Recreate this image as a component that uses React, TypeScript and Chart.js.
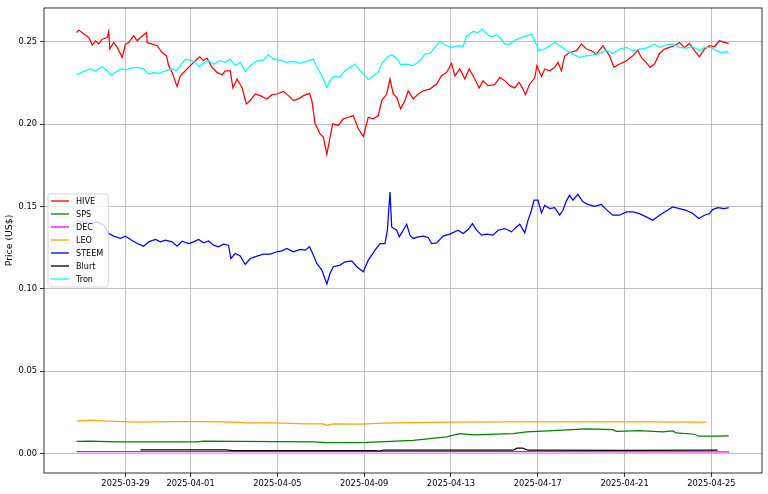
import { useEffect, useRef } from "react";
import { Chart, registerables } from "chart.js";

Chart.register(...registerables);

// time is counted in days from 2025-03-26 00:00
const tickDays = [3, 6, 10, 14, 18, 22, 26, 30];
const tickLabels = [
  "2025-03-29",
  "2025-04-01",
  "2025-04-05",
  "2025-04-09",
  "2025-04-13",
  "2025-04-17",
  "2025-04-21",
  "2025-04-25",
];
const yTicks = [0, 0.05, 0.1, 0.15, 0.2, 0.25];
const yTickLabels = ["0.00", "0.05", "0.10", "0.15", "0.20", "0.25"];

const hiveDays = [
  0.75, 0.85, 1.08, 1.31, 1.47, 1.62, 1.77, 1.93, 2.16, 2.23,
  2.28, 2.46, 2.62, 2.85, 3.0, 3.15, 3.38, 3.54, 3.69, 3.97,
  4.0, 4.23, 4.46, 4.69, 4.89, 4.99, 5.15, 5.38, 5.53, 5.76,
  5.99, 6.22, 6.42, 6.6, 6.76, 6.99, 7.22, 7.45, 7.6, 7.83,
  7.95, 8.14, 8.37, 8.57, 8.75, 8.98, 9.21, 9.52, 9.75, 9.98,
  10.28, 10.51, 10.74, 10.97, 11.2, 11.48, 11.59, 11.74, 11.97, 12.12,
  12.28, 12.4, 12.55, 12.81, 13.04, 13.27, 13.5, 13.73, 13.96, 14.19,
  14.42, 14.65, 14.81, 15.04, 15.19, 15.34, 15.5, 15.68, 15.88, 16.03,
  16.26, 16.49, 16.72, 17.03, 17.34, 17.57, 17.8, 18.03, 18.18, 18.41,
  18.64, 18.84, 19.02, 19.3, 19.48, 19.71, 20.02, 20.25, 20.48, 20.71,
  20.94, 21.14, 21.32, 21.43, 21.63, 21.86, 21.96, 22.17, 22.32, 22.55,
  22.78, 22.93, 23.09, 23.24, 23.47, 23.78, 24.01, 24.24, 24.47, 24.7,
  25.0, 25.31, 25.51, 25.77, 26.08, 26.38, 26.61, 26.77, 26.99, 27.18,
  27.38, 27.61, 27.84, 28.07, 28.3, 28.53, 28.76, 28.99, 29.22, 29.45,
  29.68, 29.91, 30.14, 30.37, 30.6, 30.8,
];
const hiveValues = [
  0.2556, 0.2571, 0.2547, 0.2526, 0.248, 0.2506, 0.2488, 0.2516, 0.2526, 0.2563,
  0.2456, 0.2496, 0.2466, 0.2405, 0.2486, 0.2496, 0.2536, 0.2506, 0.2526, 0.2556,
  0.2496, 0.2486, 0.2476, 0.2435, 0.2415, 0.2355, 0.2314, 0.2228, 0.2294, 0.2324,
  0.2355, 0.2385, 0.2409, 0.2385, 0.2401, 0.2345, 0.2314, 0.23, 0.2324, 0.2324,
  0.222, 0.2274, 0.2223, 0.2123, 0.2143, 0.2183, 0.2173, 0.2153, 0.2179, 0.2183,
  0.2199, 0.2173, 0.2143, 0.2153, 0.2173, 0.2187, 0.2143, 0.2002, 0.1941, 0.1921,
  0.1816, 0.1901, 0.2002, 0.1992, 0.2032, 0.2042, 0.2052, 0.1972, 0.1925, 0.2042,
  0.2032, 0.2052, 0.2143, 0.2183, 0.2274, 0.2183, 0.2163, 0.2093, 0.2143, 0.2203,
  0.2153, 0.2183, 0.2203, 0.2213, 0.2244, 0.2294, 0.2314, 0.2369, 0.2294, 0.2335,
  0.2274, 0.2335, 0.2294, 0.222, 0.2264, 0.2234, 0.224, 0.2284, 0.2264, 0.2234,
  0.222, 0.2254, 0.2213, 0.2179, 0.2244, 0.228, 0.2355, 0.2288, 0.2335, 0.2324,
  0.2345, 0.2375, 0.2324, 0.2415, 0.2435, 0.2446, 0.2486, 0.2456, 0.2446, 0.2425,
  0.2476, 0.2415, 0.2345, 0.2365, 0.2385, 0.2415, 0.2449, 0.2405, 0.2375, 0.2345,
  0.2365, 0.2429, 0.2456, 0.2466, 0.2476, 0.2496, 0.2466, 0.249, 0.2446, 0.2409,
  0.2456, 0.2476, 0.247, 0.2506, 0.2496, 0.249,
];

const spsDays = [
  0.75, 1.39, 2.62, 3.69, 5.22, 6.3, 6.6, 8.29, 9.82, 11.66,
  12.28, 14.12, 14.73, 16.26, 17.8, 18.41, 19.02, 20.86, 21.48, 22.7,
  24.24, 25.46, 25.62, 26.69, 27.76, 28.22, 28.38, 29.22, 29.42, 30.06,
  30.8,
];
const spsValues = [
  0.0073, 0.0075, 0.007, 0.0071, 0.007, 0.007, 0.0075, 0.0073, 0.0072, 0.0071,
  0.0066, 0.0068, 0.0071, 0.008, 0.0101, 0.0121, 0.0113, 0.0121, 0.0131, 0.0139,
  0.0149, 0.0145, 0.0135, 0.0139, 0.0131, 0.0137, 0.0125, 0.0117, 0.0105, 0.0105,
  0.0107,
];

const decDays = [0.75, 10.0, 20.0, 30.83];
const decValues = [0.0011, 0.0011, 0.0011, 0.001];

const leoDays = [
  0.75, 1.39, 2.16, 3.54, 5.22, 6.6, 7.98, 8.6, 9.82, 11.36,
  12.12, 12.28, 12.58, 13.81, 14.88, 17.8, 20.86, 23.93, 27.0, 29.78,
];
const leoValues = [
  0.0196, 0.0202, 0.0196, 0.019, 0.0194, 0.0194, 0.019, 0.0186, 0.0186, 0.018,
  0.018, 0.0171, 0.018, 0.0178, 0.0184, 0.019, 0.0192, 0.0192, 0.0192, 0.019,
];

const steemDays = [
  0.75, 1.08, 1.39, 1.7, 2.0, 2.23, 2.46, 2.77, 3.0, 3.23,
  3.54, 3.84, 4.07, 4.38, 4.61, 4.84, 5.15, 5.38, 5.61, 5.91,
  6.14, 6.37, 6.6, 6.83, 7.06, 7.29, 7.52, 7.75, 7.86, 8.06,
  8.29, 8.52, 8.75, 9.06, 9.36, 9.67, 9.98, 10.21, 10.44, 10.74,
  11.05, 11.28, 11.48, 11.59, 11.82, 12.05, 12.28, 12.43, 12.58, 12.89,
  13.12, 13.43, 13.66, 13.96, 14.19, 14.35, 14.5, 14.73, 14.96, 15.07,
  15.19, 15.27, 15.5, 15.62, 15.8, 15.96, 16.11, 16.26, 16.49, 16.72,
  16.95, 17.11, 17.34, 17.64, 17.95, 18.33, 18.56, 18.79, 18.99, 19.18,
  19.41, 19.64, 19.94, 20.17, 20.48, 20.79, 21.02, 21.17, 21.4, 21.55,
  21.71, 21.83, 22.01, 22.17, 22.32, 22.55, 22.78, 23.01, 23.16, 23.32,
  23.47, 23.62, 23.85, 24.08, 24.31, 24.62, 24.93, 25.16, 25.46, 25.77,
  26.08, 26.38, 26.69, 27.0, 27.3, 27.61, 27.92, 28.22, 28.53, 28.84,
  29.14, 29.42, 29.68, 29.91, 30.06, 30.29, 30.6, 30.8,
];
const steemValues = [
  0.1412, 0.1406, 0.1396, 0.1406, 0.1386, 0.1336, 0.132, 0.1306, 0.132, 0.13,
  0.1275, 0.1259, 0.1285, 0.13, 0.1285, 0.1295, 0.1285, 0.1259, 0.1289, 0.1275,
  0.1285, 0.13, 0.1279, 0.1291, 0.1265, 0.1255, 0.1271, 0.1265, 0.1184, 0.1215,
  0.1199, 0.1148, 0.1184, 0.1199, 0.1211, 0.1211, 0.1225, 0.1231, 0.1245, 0.1225,
  0.1239, 0.1235, 0.1255, 0.1225, 0.1154, 0.1114, 0.1029, 0.1094, 0.1134, 0.1144,
  0.1164, 0.117, 0.1134, 0.1104, 0.1174, 0.1205, 0.1235, 0.1275, 0.1275, 0.1356,
  0.1588, 0.1376, 0.1356, 0.1316, 0.1356, 0.1392, 0.1326, 0.1306, 0.1316, 0.132,
  0.1312, 0.1275, 0.1279, 0.132, 0.1332, 0.1356, 0.1336, 0.136, 0.1396, 0.1356,
  0.1326, 0.1332, 0.1326, 0.1356, 0.1366, 0.1346, 0.1376, 0.1392, 0.134, 0.1416,
  0.1477, 0.1538, 0.1538, 0.1461, 0.1507, 0.1487, 0.1493, 0.1447, 0.1477, 0.1534,
  0.1568, 0.1538, 0.1574, 0.1528, 0.1513, 0.1501, 0.1513, 0.1481, 0.1447, 0.1447,
  0.1467, 0.1467, 0.1457, 0.1437, 0.1416, 0.1447, 0.1473, 0.1497, 0.1487, 0.1477,
  0.1457, 0.1427, 0.1447, 0.1457, 0.1481, 0.1493, 0.1487, 0.1493,
];

const blurtDays = [3.69, 7.6, 7.97, 14.5, 14.65, 14.9, 15.65, 20.85, 21.05, 21.3, 21.55, 25.77, 30.29];
const blurtValues = [0.0022, 0.0022, 0.0018, 0.0018, 0.0014, 0.002, 0.002, 0.002, 0.0032, 0.0032, 0.002, 0.0019, 0.002];

const tronDays = [
  0.75, 1.08, 1.39, 1.62, 1.93, 2.16, 2.31, 2.54, 2.77, 3.0,
  3.31, 3.61, 3.84, 4.07, 4.3, 4.53, 4.84, 5.15, 5.35, 5.53,
  5.76, 5.99, 6.22, 6.37, 6.6, 6.83, 7.06, 7.37, 7.6, 7.83,
  8.06, 8.29, 8.52, 8.75, 9.06, 9.36, 9.59, 9.82, 10.13, 10.44,
  10.74, 11.05, 11.36, 11.66, 11.82, 12.05, 12.28, 12.43, 12.58, 12.89,
  13.12, 13.35, 13.58, 13.81, 14.04, 14.19, 14.42, 14.65, 14.81, 15.04,
  15.27, 15.5, 15.68, 15.96, 16.26, 16.57, 16.8, 17.03, 17.26, 17.49,
  17.8, 18.03, 18.33, 18.56, 18.72, 19.02, 19.25, 19.45, 19.64, 19.87,
  20.1, 20.25, 20.48, 20.71, 20.94, 21.17, 21.48, 21.71, 21.86, 22.06,
  22.32, 22.55, 22.78, 23.01, 23.32, 23.62, 23.93, 24.24, 24.54, 24.85,
  25.16, 25.46, 25.77, 26.08, 26.38, 26.69, 27.0, 27.38, 27.61, 27.92,
  28.22, 28.53, 28.84, 29.14, 29.45, 29.68, 29.99, 30.22, 30.45, 30.68,
  30.8,
];
const tronValues = [
  0.23, 0.232, 0.2335, 0.2324, 0.2349, 0.2324, 0.23, 0.2314, 0.2335, 0.2329,
  0.2341, 0.2345, 0.2335, 0.2304, 0.2314, 0.2308, 0.2324, 0.2335, 0.2324, 0.2355,
  0.2395, 0.2389, 0.2375, 0.2349, 0.2369, 0.2385, 0.2365, 0.2385, 0.2375, 0.2395,
  0.2355, 0.2375, 0.232, 0.2355, 0.2385, 0.2389, 0.2421, 0.2395, 0.2389, 0.2375,
  0.2381, 0.2369, 0.2381, 0.2395, 0.2345, 0.2294, 0.2223, 0.2264, 0.2288, 0.2288,
  0.2324, 0.2345, 0.2365, 0.2324, 0.2294, 0.227, 0.2294, 0.2314, 0.2365, 0.2405,
  0.2421, 0.24, 0.2361, 0.2365, 0.2355, 0.2385, 0.2425, 0.2429, 0.2466, 0.2502,
  0.2476, 0.2466, 0.2476, 0.247, 0.2536, 0.2563, 0.2556, 0.2577, 0.2547, 0.253,
  0.2542, 0.2526, 0.2486, 0.2486, 0.251, 0.2522, 0.2536, 0.2547, 0.2506, 0.2446,
  0.2456, 0.2476, 0.2496, 0.2476, 0.2449, 0.2425, 0.2405, 0.2415, 0.2421, 0.2429,
  0.2449, 0.2429, 0.2456, 0.2466, 0.2446, 0.2456, 0.2462, 0.2486, 0.2466, 0.2482,
  0.2486, 0.2466, 0.2462, 0.247, 0.2446, 0.2466, 0.2466, 0.2446, 0.2435, 0.2441,
  0.2429,
];

const FONT = "'DejaVu Sans', sans-serif";
const TICK_SIZE = 8.3;
const TITLE_SIZE = 9.3;
const LEGEND_SIZE = 8.1;

const series = [
  { label: "HIVE", days: hiveDays, values: hiveValues, color: "#ff0000" },
  { label: "SPS", days: spsDays, values: spsValues, color: "#008000" },
  { label: "DEC", days: decDays, values: decValues, color: "#ff00ff" },
  { label: "LEO", days: leoDays, values: leoValues, color: "#ffa500" },
  { label: "STEEM", days: steemDays, values: steemValues, color: "#0000ff" },
  { label: "Blurt", days: blurtDays, values: blurtValues, color: "#000000" },
  { label: "Tron", days: tronDays, values: tronValues, color: "#00ffff" },
];

// matplotlib-like 5% margins around the data
const allDays = series.flatMap((s) => s.days);
const allValues = series.flatMap((s) => s.values);
const dayMin = Math.min(...allDays);
const dayMax = Math.max(...allDays);
const valMin = Math.min(...allValues);
const valMax = Math.max(...allValues);
const xPad = (dayMax - dayMin) * 0.05;
const yPad = (valMax - valMin) * 0.05;

const framePlugin = {
  id: "frame",
  afterDraw(chart: any) {
    const { ctx, chartArea: a } = chart;
    ctx.save();
    ctx.strokeStyle = "#000";
    ctx.lineWidth = 0.8;
    ctx.strokeRect(a.left, a.top, a.right - a.left, a.bottom - a.top);
    ctx.restore();
  },
};

// legend drawn inside the axes, centre left, like matplotlib's
const legendPlugin = {
  id: "boxLegend",
  afterDraw(chart: any) {
    const { ctx, chartArea: a } = chart;
    const items = chart.data.datasets.map((d: any) => ({ label: d.label, color: d.borderColor }));
    ctx.save();
    ctx.font = `${LEGEND_SIZE}px ${FONT}`;
    const rowH = 13;
    const textW = Math.max(...items.map((it: any) => ctx.measureText(it.label).width));
    const w = 3 + 18 + 7 + textW + 5;
    const h = items.length * rowH + 2;
    const x0 = a.left + 4;
    const y0 = (a.top + a.bottom) / 2 - h / 2;
    ctx.beginPath();
    ctx.roundRect(x0, y0, w, h, 2);
    ctx.fillStyle = "rgba(255,255,255,0.8)";
    ctx.fill();
    ctx.strokeStyle = "#cccccc";
    ctx.lineWidth = 0.8;
    ctx.stroke();
    items.forEach((it: any, i: number) => {
      const cy = y0 + 7 + i * rowH;
      ctx.strokeStyle = it.color;
      ctx.lineWidth = 1.3;
      ctx.beginPath();
      ctx.moveTo(x0 + 3, cy);
      ctx.lineTo(x0 + 21, cy);
      ctx.stroke();
      ctx.fillStyle = "#000";
      ctx.textBaseline = "middle";
      ctx.textAlign = "left";
      ctx.fillText(it.label, x0 + 28, cy + 0.5);
    });
    ctx.restore();
  },
};

export default function App() {
  const canvasRef = useRef<HTMLCanvasElement | null>(null);

  useEffect(() => {
    if (!canvasRef.current) return;
    const font = { family: FONT, size: TICK_SIZE };

    const chart = new Chart(canvasRef.current, {
      type: "line",
      data: {
        datasets: series.map((s, i) => ({
          label: s.label,
          data: s.days.map((d, j) => ({ x: d, y: s.values[j] })),
          borderColor: s.color,
          backgroundColor: s.color,
          borderWidth: 1.25,
          pointRadius: 0,
          tension: 0,
          fill: false,
          order: series.length - i,
        })),
      },
      options: {
        responsive: false,
        animation: false,
        events: [],
        layout: { padding: { top: 6.5, right: 6, left: 0, bottom: 0 } },
        plugins: {
          legend: { display: false },
          tooltip: { enabled: false },
        },
        scales: {
          x: {
            type: "linear",
            min: dayMin - xPad,
            max: dayMax + xPad,
            afterBuildTicks: (scale: any) => {
              scale.ticks = tickDays.map((v) => ({ value: v }));
            },
            afterFit: (scale: any) => {
              scale.height = 21;
            },
            ticks: {
              callback: (v: any) => tickLabels[tickDays.indexOf(Number(v))] ?? "",
              font,
              color: "#000",
              padding: 2,
              maxRotation: 0,
              autoSkip: false,
            },
            grid: { color: "#b0b0b0", lineWidth: 0.8, tickLength: 4, tickColor: "#000" },
            border: { display: false },
          },
          y: {
            type: "linear",
            min: valMin - yPad,
            max: valMax + yPad,
            afterBuildTicks: (scale: any) => {
              scale.ticks = yTicks.map((v) => ({ value: v }));
            },
            afterFit: (scale: any) => {
              scale.width = 44;
            },
            ticks: {
              callback: (v: any) => yTickLabels[yTicks.indexOf(Number(v))] ?? "",
              font,
              color: "#000",
              padding: 3,
            },
            title: {
              display: true,
              text: "Price (US$)",
              font: { family: FONT, size: TITLE_SIZE },
              color: "#000",
              padding: { top: 4, bottom: 4 },
            },
            grid: { color: "#b0b0b0", lineWidth: 0.8, tickLength: 4, tickColor: "#000" },
            border: { display: false },
          },
        },
      },
      plugins: [framePlugin, legendPlugin],
    });

    return () => chart.destroy();
  }, []);

  return (
    <div style={{ position: "absolute", top: 0, left: 0, width: 768, height: 494, background: "#fff" }}>
      <canvas ref={canvasRef} width={768} height={494} style={{ display: "block" }}></canvas>
    </div>
  );
}
